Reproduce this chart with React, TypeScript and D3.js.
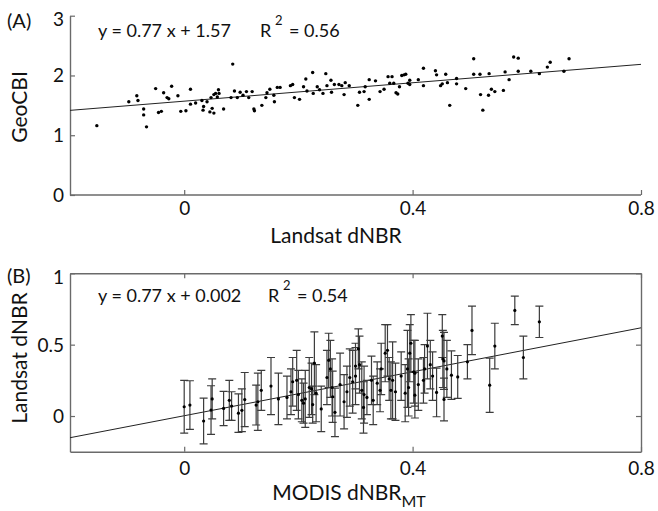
import React, { useEffect, useRef } from "react";
import * as d3 from "d3";

// shared x axis ticks
const xTicks = [0, 0.4, 0.8];
const geoTicks = [0, 1, 2, 3];
const landsatTicks = [0, 0.5, 1];

// (A) Landsat dNBR vs GeoCBI
const landsatDnbr = [
  -0.153, -0.097, -0.083, -0.081, -0.071, -0.071, -0.066, -0.05, -0.045, -0.04,
  -0.036, -0.03, -0.027, -0.022, -0.011, -0.006, 0.003, 0.011, 0.011, 0.02,
  0.031, 0.033, 0.034, 0.04, 0.045, 0.047, 0.049, 0.052, 0.052, 0.055,
  0.058, 0.06, 0.061, 0.069, 0.085, 0.082, 0.088, 0.093, 0.098, 0.103,
  0.109, 0.113, 0.119, 0.122, 0.123, 0.136, 0.143, 0.145, 0.15, 0.157,
  0.158, 0.163, 0.168, 0.186, 0.19, 0.193, 0.202, 0.209, 0.213, 0.215,
  0.225, 0.226, 0.233, 0.237, 0.243, 0.248, 0.25, 0.257, 0.258, 0.263,
  0.271, 0.276, 0.28, 0.282, 0.289, 0.304, 0.307, 0.324, 0.324, 0.317,
  0.315, 0.335, 0.343, 0.35, 0.357, 0.364, 0.36, 0.367, 0.371, 0.374,
  0.377, 0.381, 0.385, 0.388, 0.392, 0.395, 0.41, 0.395, 0.419, 0.419,
  0.44, 0.442, 0.449, 0.452, 0.458, 0.461, 0.465, 0.477, 0.477, 0.493,
  0.507, 0.507, 0.518, 0.519, 0.523, 0.533, 0.534, 0.538, 0.544, 0.559,
  0.562, 0.569, 0.577, 0.585, 0.585, 0.607, 0.622, 0.636, 0.641, 0.665,
  0.674,
];
const geoCbi = [
  1.16, 1.56, 1.66, 1.58, 1.44, 1.34, 1.14, 1.78, 1.38, 1.4,
  1.71, 1.63, 1.61, 1.82, 1.66, 1.4, 1.41, 1.77, 1.52, 1.54,
  1.58, 1.42, 1.48, 1.56, 1.39, 1.63, 1.45, 1.37, 1.68, 1.7,
  1.64, 1.76, 1.7, 1.44, 2.19, 1.63, 1.74, 1.63, 1.72, 1.67,
  1.73, 1.63, 1.73, 1.44, 1.41, 1.5, 1.63, 1.71, 1.77, 1.67,
  1.56, 1.8, 1.8, 1.83, 1.85, 1.63, 1.6, 1.81, 1.94, 1.74,
  2.05, 1.7, 1.81, 1.76, 1.7, 2.03, 1.83, 1.92, 1.72, 1.85,
  1.85, 1.83, 1.68, 1.88, 1.83, 1.5, 1.72, 1.93, 1.6, 1.81,
  1.73, 1.91, 1.73, 1.77, 1.98, 1.98, 1.87, 1.87, 1.71, 1.69,
  1.81, 2.0, 2.01, 2.02, 1.87, 1.92, 1.93, 1.85, 2.12, 1.83,
  2.08, 2.01, 1.83, 1.86, 2.02, 1.88, 1.5, 1.95, 1.86, 1.78,
  2.28, 2.02, 2.02, 1.68, 1.42, 1.67, 2.03, 1.77, 1.73, 1.75,
  2.06, 1.93, 2.31, 2.29, 2.07, 2.07, 2.03, 2.14, 2.22, 2.07,
  2.28,
];

// (B) MODIS dNBR_MT vs Landsat dNBR with error bars
const modisDnbr = [
  0.0, 0.01, 0.034, 0.047, 0.049, 0.069, 0.079, 0.083, 0.095, 0.101,
  0.106, 0.126, 0.129, 0.135, 0.152, 0.165, 0.18, 0.187, 0.19, 0.197,
  0.2, 0.206, 0.209, 0.212, 0.219, 0.223, 0.225, 0.228, 0.231, 0.24,
  0.25, 0.253, 0.256, 0.259, 0.26, 0.264, 0.273, 0.28, 0.285, 0.29,
  0.295, 0.3, 0.3, 0.305, 0.307, 0.311, 0.314, 0.315, 0.32, 0.328,
  0.331, 0.338, 0.343, 0.345, 0.352, 0.356, 0.359, 0.362, 0.365, 0.37,
  0.38, 0.387, 0.391, 0.393, 0.395, 0.397, 0.402, 0.404, 0.404, 0.41,
  0.419, 0.421, 0.426, 0.431, 0.435, 0.442, 0.452, 0.453, 0.455, 0.455,
  0.46, 0.468, 0.479, 0.496, 0.504, 0.535, 0.544, 0.579, 0.594, 0.622,
];
const landsatMean = [
  0.065, 0.077, -0.035, 0.042, 0.12, 0.053, 0.11, 0.07, 0.02, 0.04,
  0.115, 0.077, 0.1, 0.18, 0.21, 0.12, 0.13, 0.17, 0.24, 0.25,
  0.15, 0.11, 0.09, 0.12, 0.2, 0.19, 0.08, 0.37, 0.16, 0.05,
  0.27, 0.39, 0.33, 0.2, 0.135, 0.026, 0.22, 0.1, 0.17, 0.27,
  0.24, 0.28, 0.35, 0.47, 0.36, 0.18, 0.06, 0.15, 0.13, 0.25,
  0.11, 0.23, 0.18, 0.33, 0.44, 0.46, 0.26, 0.18, 0.25, 0.17,
  0.28, 0.16, 0.33, 0.2, 0.44, 0.51, 0.31, 0.3, 0.146, 0.22,
  0.25, 0.33, 0.49, 0.36, 0.28, 0.165, 0.56, 0.4, 0.116, 0.386,
  0.33, 0.286, 0.274, 0.38, 0.6, 0.216, 0.49, 0.74, 0.41, 0.66,
];
const landsatErr = [
  0.185, 0.17, 0.16, 0.17, 0.14, 0.12, 0.14, 0.1, 0.135, 0.15,
  0.19, 0.14, 0.2, 0.14, 0.2, 0.18, 0.15, 0.16, 0.17, 0.21,
  0.17, 0.15, 0.14, 0.2, 0.21, 0.18, 0.13, 0.22, 0.2, 0.16,
  0.19, 0.19, 0.2, 0.2, 0.18, 0.17, 0.22, 0.19, 0.18, 0.2,
  0.22, 0.2, 0.16, 0.14, 0.2, 0.2, 0.18, 0.2, 0.12, 0.17,
  0.17, 0.15, 0.15, 0.18, 0.2, 0.18, 0.15, 0.2, 0.27, 0.2,
  0.17, 0.2, 0.27, 0.2, 0.2, 0.2, 0.22, 0.23, 0.16, 0.18,
  0.16, 0.17, 0.23, 0.17, 0.17, 0.17, 0.15, 0.2, 0.15, 0.2,
  0.2, 0.17, 0.15, 0.12, 0.17, 0.19, 0.16, 0.1, 0.15, 0.11,
];

// regression fits printed on the figure
const fitA = { slope: 0.77, intercept: 1.57, eq: "y = 0.77 x + 1.57", r2: "= 0.56" };
const fitB = { slope: 0.77, intercept: 0.002, eq: "y = 0.77 x + 0.002", r2: "= 0.54" };

const FONT = "Lato, 'Open Sans', sans-serif";
const AXIS_COLOR = "#6a6a6a";

const Chart = () => {
  const ref = useRef<SVGSVGElement>(null);

  useEffect(() => {
    const svg = d3.select(ref.current);
    svg.selectAll("*").remove();

    const left = 70;
    const right = 641;
    const x = d3.scaleLinear().domain([-0.2, 0.8]).range([left, right]);
    const yA = d3.scaleLinear().domain([0, 3]).range([195, 15.7]);
    const yB = d3.scaleLinear().domain([-0.25, 1]).range([451.7, 273.3]);
    const fmt = d3.format("");

    const styleAxis = (g: any, tickFont = 19) => {
      g.select(".domain").attr("stroke", AXIS_COLOR).attr("stroke-width", 1.4);
      g.selectAll(".tick line").attr("stroke", AXIS_COLOR).attr("stroke-width", 1.2);
      g.selectAll(".tick text")
        .attr("fill", "#111")
        .style("font-family", FONT)
        .style("font-size", `${tickFont}px`);
    };

    // ---------- panel A ----------
    const gA = svg.append("g");
    const axA_x = gA
      .append("g")
      .attr("transform", `translate(0,${yA(0)})`)
      .call(d3.axisBottom(x).tickValues(xTicks).tickSizeInner(-5).tickSizeOuter(0).tickPadding(7).tickFormat(fmt));
    styleAxis(axA_x);
    axA_x.select(".domain").attr("d", `M${left},0H${right}`);
    const axA_y = gA
      .append("g")
      .attr("transform", `translate(${left},0)`)
      .call(d3.axisLeft(yA).tickValues(geoTicks).tickSizeInner(-5).tickSizeOuter(0).tickPadding(6).tickFormat(fmt));
    styleAxis(axA_y);
    axA_y.selectAll(".tick text").attr("dy", (d: any) => (d === 3 ? "0.52em" : "0.34em"));

    gA.append("line")
      .attr("x1", x(-0.2)).attr("x2", x(0.8))
      .attr("y1", yA(fitA.intercept + fitA.slope * -0.2))
      .attr("y2", yA(fitA.intercept + fitA.slope * 0.8))
      .attr("stroke", "#222").attr("stroke-width", 1);

    gA.append("g")
      .selectAll("circle")
      .data(d3.zip(landsatDnbr, geoCbi))
      .join("circle")
      .attr("cx", (d) => x(d[0]))
      .attr("cy", (d) => yA(d[1]))
      .attr("r", 1.7)
      .attr("fill", "#000");

    // ---------- panel B ----------
    const gB = svg.append("g");
    const xb = gB.append("g").attr("transform", `translate(0,${yB(-0.25)})`)
      .call(d3.axisBottom(x).tickValues(xTicks).tickSizeInner(-5).tickSizeOuter(0).tickPadding(10).tickFormat(fmt));
    styleAxis(xb);
    const xt = gB.append("g").attr("transform", `translate(0,${yB(1)})`)
      .call(d3.axisTop(x).tickValues(xTicks).tickSizeInner(-5).tickSizeOuter(0).tickFormat(() => ""));
    styleAxis(xt);
    const yl = gB.append("g").attr("transform", `translate(${left},0)`)
      .call(d3.axisLeft(yB).tickValues(landsatTicks).tickSizeInner(-5).tickSizeOuter(0).tickPadding(6).tickFormat(fmt));
    styleAxis(yl);
    yl.selectAll(".tick text").attr("dy", (d: any) => (d === 1 ? "0.52em" : "0.34em"));
    const yr = gB.append("g").attr("transform", `translate(${right},0)`)
      .call(d3.axisRight(yB).tickValues(landsatTicks).tickSizeInner(-5).tickSizeOuter(0).tickFormat(() => ""));
    styleAxis(yr);

    gB.append("line")
      .attr("x1", x(-0.2)).attr("x2", x(0.8))
      .attr("y1", yB(fitB.intercept + fitB.slope * -0.2))
      .attr("y2", yB(fitB.intercept + fitB.slope * 0.8))
      .attr("stroke", "#222").attr("stroke-width", 1);

    const pts = modisDnbr.map((m, i) => ({ m, v: landsatMean[i], e: landsatErr[i] }));
    const bars = gB.append("g").attr("stroke", "#3c3c3c").attr("stroke-width", 1.2).attr("fill", "none");
    bars.selectAll("path")
      .data(pts)
      .join("path")
      .attr("d", (d) => {
        const cx = x(d.m);
        const t = yB(d.v + d.e);
        const b = yB(d.v - d.e);
        return `M${cx},${t}V${b}M${cx - 4},${t}H${cx + 4}M${cx - 4},${b}H${cx + 4}`;
      });
    gB.append("g")
      .selectAll("circle")
      .data(pts)
      .join("circle")
      .attr("cx", (d) => x(d.m))
      .attr("cy", (d) => yB(d.v))
      .attr("r", 1.6)
      .attr("fill", "#000");

    // ---------- text ----------
    const txt = (t: string, xx: number, yy: number, size: number, anchor = "start") =>
      svg.append("text")
        .attr("x", xx).attr("y", yy)
        .attr("text-anchor", anchor)
        .style("font-family", FONT)
        .style("font-size", `${size}px`)
        .attr("fill", "#111")
        .text(t);

    txt("(A)", 7, 28, 20);
    txt("(B)", 7, 283, 20);

    txt(fitA.eq, 98, 37, 18);
    txt("R", 260, 37, 18);
    txt("2", 275, 25, 13);
    txt(fitA.r2, 289, 37, 18);

    txt(fitB.eq, 98, 302, 18);
    txt("R", 268, 302, 18);
    txt("2", 283, 290, 13);
    txt(fitB.r2, 297, 302, 18);

    txt("Landsat dNBR", 336, 243, 21, "middle");
    const mod = svg.append("text")
      .attr("x", 349).attr("y", 500)
      .attr("text-anchor", "middle")
      .style("font-family", FONT)
      .style("font-size", "21px")
      .attr("fill", "#111");
    mod.append("tspan").text("MODIS dNBR");
    mod.append("tspan").attr("dy", 7).style("font-size", "16px").text("MT");

    txt("GeoCBI", 0, 0, 21, "middle").attr("transform", "translate(27,107) rotate(-90)");
    txt("Landsat dNBR", 0, 0, 21, "middle").attr("transform", "translate(27,358) rotate(-90)");
  }, []);

  return (
    <svg
      ref={ref}
      width={658}
      height={511}
      style={{ position: "absolute", left: 0, top: 0, background: "#fff" }}
    />
  );
};

export default function App() {
  return <Chart />;
}
